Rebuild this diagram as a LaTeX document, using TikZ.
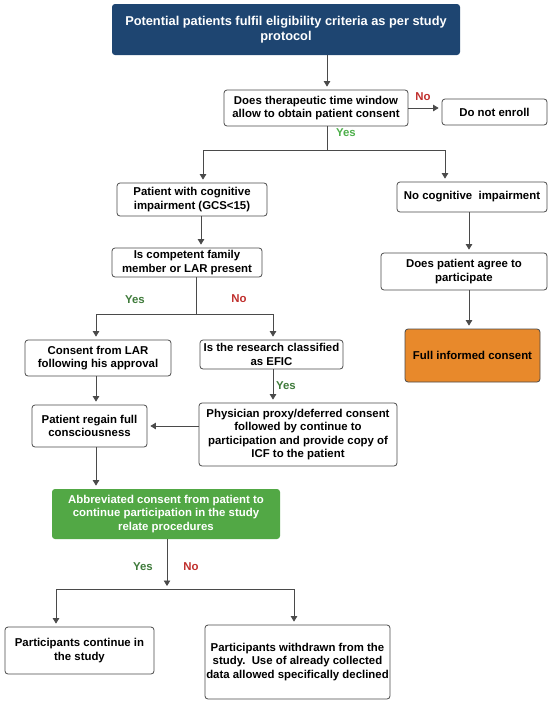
\documentclass[tikz,border=0pt]{standalone}
\usepackage{fontspec}
\setmainfont{Liberation Sans}
\usetikzlibrary{arrows.meta}
\definecolor{topblue}{HTML}{1E4571}
\definecolor{boxorange}{HTML}{E8892B}
\definecolor{boxgreen}{HTML}{52A845}
\definecolor{edgegray}{HTML}{4A4A4A}
\definecolor{yesgreen}{HTML}{3E7A3A}
\definecolor{yeslight}{HTML}{4DAF4A}
\definecolor{nored}{HTML}{C0302E}
\tikzset{
  box/.style={draw=edgegray, line width=0.8pt, rounded corners=3pt, fill=white, align=center,
    font=\fontsize{11.4}{13.6}\selectfont\bfseries, inner sep=0pt, text=black},
  arr/.style={draw=edgegray, line width=0.8pt, -{Triangle[width=6.5pt,length=5.5pt]}, shorten >=3pt},
  ln/.style={draw=edgegray, line width=0.8pt},
  lab/.style={font=\fontsize{11.4}{13.6}\selectfont\bfseries, inner sep=0pt},
}
\begin{document}
\begin{tikzpicture}[x=1pt,y=-1pt]
\useasboundingbox (0,0) rectangle (550,704);
% nodes
\node[box, draw=none, fill=topblue, text=white, minimum width=348pt, minimum height=51pt,
  font=\fontsize{12.8}{15}\selectfont\bfseries] (top) at (286,29.5)
  {Potential patients fulfil eligibility criteria as per study\\protocol};
\node[box, minimum width=184pt, minimum height=36pt] (q1) at (316,108)
  {Does therapeutic time window\\allow to obtain patient consent};
\node[box, minimum width=105pt, minimum height=26pt] (dne) at (494.5,112) {Do not enroll};
\node[box, minimum width=150pt, minimum height=33pt] (pci) at (192,199.5)
  {Patient with cognitive\\impairment (GCS<15)};
\node[box, minimum width=150pt, minimum height=30pt] (nci) at (472,197)
  {No cognitive\ \ impairment};
\node[box, minimum width=150pt, minimum height=29pt] (comp) at (187,262.5)
  {Is competent family\\member or LAR present};
\node[box, minimum width=166pt, minimum height=37pt] (agree) at (464,271.5)
  {Does patient agree to\\participate};
\node[box, fill=boxorange, minimum width=135pt, minimum height=53pt] (full) at (472.5,355.5)
  {Full informed consent};
\node[box, minimum width=146pt, minimum height=36pt] (lar) at (98,358)
  {Consent from LAR\\following his approval};
\node[box, minimum width=143pt, minimum height=29pt] (efic) at (271.5,354.5)
  {Is the research classified\\as EFIC};
\node[box, minimum width=198pt, minimum height=63pt] (phys) at (298,434.5)
  {Physician proxy/deferred consent\\followed by continue to\\participation and provide copy of\\ICF to the patient};
\node[box, minimum width=115pt, minimum height=42pt] (regain) at (89.5,426)
  {Patient regain full\\consciousness};
\node[box, draw=none, fill=boxgreen, text=white, minimum width=228pt, minimum height=50pt] (green) at (166,514)
  {Abbreviated consent from patient to\\continue participation in the study\\relate procedures};
\node[box, minimum width=149pt, minimum height=47pt] (cont) at (79.5,650.5)
  {Participants continue in\\the study};
\node[box, minimum width=185pt, minimum height=74pt] (withd) at (297.5,662)
  {Participants withdrawn from the\\study.\ \ Use of already collected\\data allowed specifically declined};
% labels
\node[lab, text=nored] (lno1) at (423,97) {No};
\node[lab, text=yeslight] (lyes1) at (346,133) {Yes};
\node[lab, text=yesgreen] (lyes2) at (135,300) {Yes};
\node[lab, text=nored] (lno2) at (239,299) {No};
\node[lab, text=yesgreen] (lyes3) at (286,386) {Yes};
\node[lab, text=yesgreen] (lyes4) at (143,567) {Yes};
\node[lab, text=nored] (lno4) at (191,567) {No};
% junction coordinates
\coordinate (j1) at (327,150);
\coordinate (j2) at (196,314);
\coordinate (j3) at (167,589);
% connectors
\draw[arr] ([xshift=41pt]top.south) -- ([xshift=11pt]q1.north);
\draw[arr] (q1.east) -- (q1.east -| dne.west);
\draw[ln] (q1.south -| j1) -- (j1);
\draw[ln] ([xshift=11pt]pci.north |- j1) -- ([xshift=-27pt]nci.north |- j1);
\draw[arr] ([xshift=11pt]pci.north |- j1) -- ([xshift=11pt]pci.north);
\draw[arr] ([xshift=-27pt]nci.north |- j1) -- ([xshift=-27pt]nci.north);
\draw[arr] ([xshift=9pt]pci.south) -- ([xshift=14pt]comp.north);
\draw[arr] ([xshift=-3pt]nci.south) -- ([xshift=5pt]agree.north);
\draw[arr] ([xshift=5pt]agree.south) -- ([xshift=-3.5pt]full.north);
\draw[ln] (comp.south -| j2) -- (j2);
\draw[ln] ([xshift=-2pt]lar.north |- j2) -- ([xshift=1.5pt]efic.north |- j2);
\draw[arr] ([xshift=-2pt]lar.north |- j2) -- ([xshift=-2pt]lar.north);
\draw[arr] ([xshift=1.5pt]efic.north |- j2) -- ([xshift=1.5pt]efic.north);
\draw[arr] ([xshift=1.5pt]efic.south) -- ([xshift=-25pt]phys.north);
\draw[arr] ([xshift=-2pt]lar.south) -- ([xshift=6.5pt]regain.north);
\draw[arr] (phys.west |- regain.east) -- (regain.east);
\draw[arr] ([xshift=6.5pt]regain.south) -- ([xshift=-70pt]green.north);
\draw[arr] ([xshift=1pt]green.south) -- (j3);
\draw[ln] ([xshift=-23.5pt]cont.north |- j3) -- ([xshift=-3.5pt]withd.north |- j3);
\draw[arr] ([xshift=-23.5pt]cont.north |- j3) -- ([xshift=-23.5pt]cont.north);
\draw[arr] ([xshift=-3.5pt]withd.north |- j3) -- ([xshift=-3.5pt]withd.north);
\end{tikzpicture}
\end{document}
